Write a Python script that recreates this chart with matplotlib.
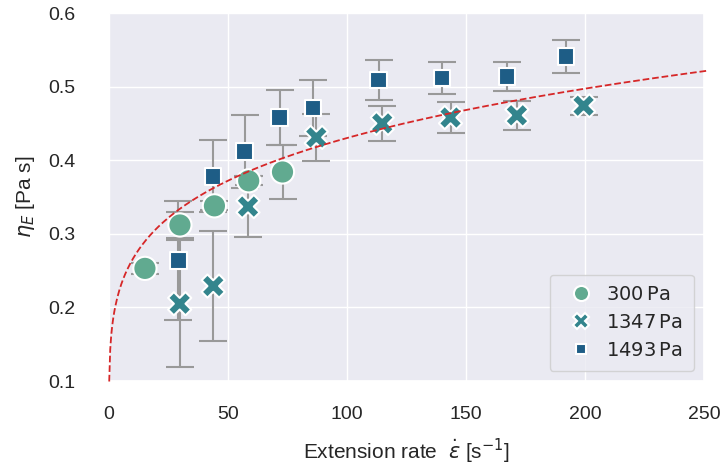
import numpy as np
import pandas as pd
import matplotlib
matplotlib.use("Agg")
import matplotlib.pyplot as plt
import seaborn as sns

# extensional viscosity at three stress levels
rate_300 = [15.1, 29.8, 44.3, 58.7, 72.9]
eta_300 = [0.253, 0.312, 0.338, 0.372, 0.384]
err_300 = [0.008, 0.018, 0.006, 0.006, 0.037]

rate_1347 = [29.7, 43.8, 58.4, 87.1, 114.8, 143.5, 171.4, 199.4]
eta_1347 = [0.205, 0.229, 0.337, 0.431, 0.450, 0.458, 0.461, 0.474]
err_1347 = [0.086, 0.075, 0.042, 0.032, 0.024, 0.021, 0.020, 0.012]

rate_1493 = [29.2, 43.8, 57.0, 71.7, 85.7, 113.3, 140.0, 167.2, 192.0]
eta_1493 = [0.264, 0.378, 0.412, 0.458, 0.471, 0.509, 0.512, 0.514, 0.541]
err_1493 = [0.081, 0.049, 0.050, 0.038, 0.038, 0.027, 0.022, 0.020, 0.022]

labels = [r"$300\,\mathrm{Pa}$", r"$1347\,\mathrm{Pa}$", r"$1493\,\mathrm{Pa}$"]

# power law fit eta = K * rate^n
K = 0.1643
n = 0.209

sns.set_theme(style="darkgrid")
plt.rcParams["font.family"] = ["Liberation Sans", "DejaVu Sans"]

df = pd.concat([
    pd.DataFrame({"rate": rate_300, "eta": eta_300, "err": err_300, "stress": labels[0]}),
    pd.DataFrame({"rate": rate_1347, "eta": eta_1347, "err": err_1347, "stress": labels[1]}),
    pd.DataFrame({"rate": rate_1493, "eta": eta_1493, "err": err_1493, "stress": labels[2]}),
])

fig = plt.figure(figsize=(7.26, 4.74), dpi=100)
ax = fig.add_axes([109 / 726, 93 / 474, 595 / 726, 368 / 474])

ax.errorbar(df["rate"], df["eta"], yerr=df["err"], fmt="none",
            ecolor="#999999", elinewidth=1.5, capsize=10, capthick=1.5, zorder=2)

sns.scatterplot(data=df, x="rate", y="eta", hue="stress", style="stress",
                palette="crest", s=280, edgecolor="white", linewidth=1.5,
                ax=ax, zorder=3)

xf = np.linspace(0.09, 252, 600)
ax.plot(xf, K * xf ** n, "--", color="#d62728", lw=1.3, zorder=4, clip_on=False)

ax.set_xlim(0, 250)
ax.set_ylim(0.1, 0.6)
ax.set_xticks([0, 50, 100, 150, 200, 250])
ax.set_yticks([0.1, 0.2, 0.3, 0.4, 0.5, 0.6])
ax.tick_params(axis="x", labelsize=14, pad=12)
ax.tick_params(axis="y", labelsize=14, pad=18)
ax.set_xlabel(r"Extension rate  $\dot{\varepsilon}$ [s$^{-1}$]", fontsize=15, labelpad=10)
ax.set_ylabel(r"$\eta_E$ [Pa s]", fontsize=15, labelpad=8)

leg = ax.legend(loc="lower right", fontsize=14, markerscale=0.65,
                title=None, handletextpad=0.3, borderpad=0.6)

fig.savefig("out.png", dpi=100)
